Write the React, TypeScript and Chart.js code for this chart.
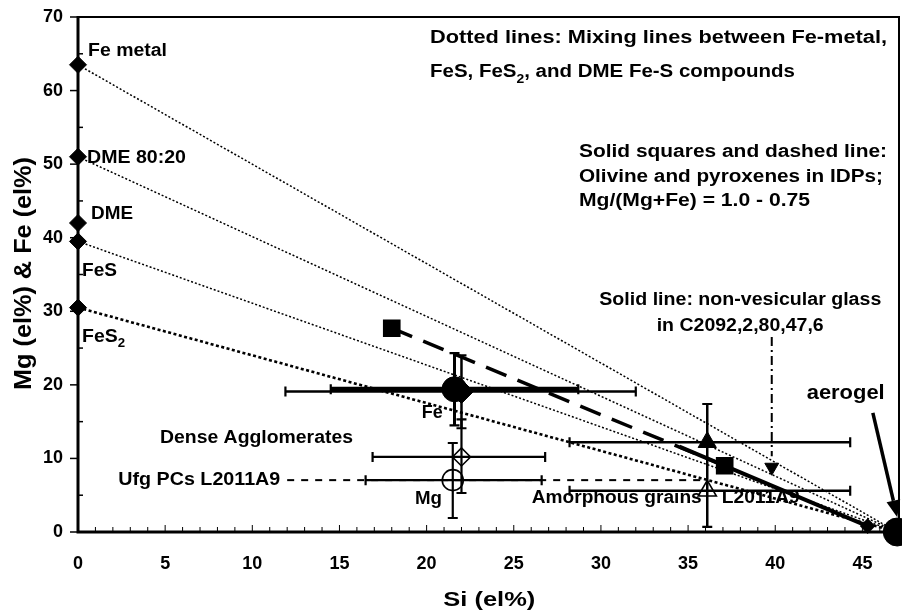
import React, { useEffect, useRef } from "react";
import { Chart, registerables } from "chart.js";
Chart.register(...registerables);

// ---------- data ----------
const xTickValues = [0, 5, 10, 15, 20, 25, 30, 35, 40, 45];
const yTickValues = [0, 10, 20, 30, 40, 50, 60, 70];

const endmemberNames = ["Fe metal", "DME 80:20", "DME", "FeS", "FeS2"];
const endmemberSi = [0, 0, 0, 0, 0];
const endmemberFe = [63.5, 51, 42, 39.5, 30.5];

const mixingStartFe = [63.5, 51, 39.5, 30.5];
const aerogelSi = [47];
const aerogelMgFe = [0];

const idpSi = [18, 37.1];
const idpMgFe = [27.7, 9.0];

const glassLineSi = [34.5, 45.3];
const glassLineMgFe = [11.6, 0.8];
const glassPointSi = [39.8];
const glassPointMgFe = [8.8];
const glassLeaderMgFe = [26.5, 10.3];

const sampleNames = [
  "Dense Agglomerates Fe",
  "Ufg PCs Fe",
  "Dense Agglomerates Mg",
  "Ufg PCs Mg",
  "Amorphous grains Fe",
  "Amorphous grains Mg",
];
const sampleSi = [22.0, 21.6, 22.0, 21.5, 36.1, 36.1];
const sampleMgFe = [19.1, 19.4, 10.2, 7.05, 12.2, 5.6];
const siErrLow = [11.9, 14.5, 16.9, 16.5, 28.2, 28.2];
const siErrHigh = [32.0, 28.7, 26.8, 26.6, 44.3, 44.3];
const mgFeErrLow = [14.1, 14.5, 5.3, 1.9, 0.7, null];
const mgFeErrHigh = [24.0, 24.3, 15.3, 12.1, 17.4, null];

const ufgLinkSi = [12.0, 36.1];
const ufgLinkMgFe = [7.05, 7.05];

const arrowSi = [45.6, 47.0];
const arrowMgFe = [16.2, 2.0];

// ---------- styles ----------
const FONT = '"Liberation Sans", Arial, Helvetica, sans-serif';
const sampleStyles = ["rectRot", "circle", "rectRot", "circle", "triangle", "triangle"];
const sampleRadii = [12, 12.5, 9, 10.5, 10.5, 10.5];
const sampleFill = ["#000", "#000", "rgba(0,0,0,0)", "rgba(0,0,0,0)", "#000", "rgba(0,0,0,0)"];
const sampleBorder = [1, 1, 1.6, 1.6, 1, 1.6];
const siBarWidth = [2.5, 5, 2.2, 2.2, 2.5, 2.5];
const mgFeBarWidth = [2.5, 3, 2.2, 2.2, 2.5, 2.5];

const AREA = { left: 78, top: 17, right: 899, bottom: 532 };

type Seg = { t: string; sub?: boolean };

// draws text whose total width is fitted to `width` (horizontal scaling only)
function drawText(
  ctx: CanvasRenderingContext2D,
  segs: string | Seg[],
  x: number,
  y: number,
  size: number,
  width: number,
  align: "left" | "center" | "right" = "left"
) {
  const parts: Seg[] = typeof segs === "string" ? [{ t: segs }] : segs;
  ctx.save();
  ctx.fillStyle = "#000";
  ctx.textBaseline = "alphabetic";
  ctx.textAlign = "left";
  let total = 0;
  const widths: number[] = [];
  for (const p of parts) {
    const s = p.sub ? size * 0.68 : size;
    ctx.font = `bold ${s}px ${FONT}`;
    const w = ctx.measureText(p.t).width;
    widths.push(w);
    total += w;
  }
  const sx = width / total;
  const start = align === "center" ? x - width / 2 : align === "right" ? x - width : x;
  ctx.translate(start, y);
  ctx.scale(sx, 1);
  let cx = 0;
  parts.forEach((p, i) => {
    const s = p.sub ? size * 0.68 : size;
    ctx.font = `bold ${s}px ${FONT}`;
    ctx.fillText(p.t, cx, p.sub ? size * 0.3 : 0);
    cx += widths[i];
  });
  ctx.restore();
}

const framePlugin = {
  id: "frameAndBars",
  beforeDatasetsDraw(chart: any) {
    const { ctx, chartArea: a, scales } = chart;
    const xs = scales.x;
    const ys = scales.y;
    ctx.save();
    ctx.strokeStyle = "#000";
    ctx.lineCap = "butt";
    ctx.lineWidth = 2;
    ctx.beginPath();
    ctx.moveTo(a.left, a.top);
    ctx.lineTo(a.right, a.top);
    ctx.lineTo(a.right, a.bottom);
    ctx.stroke();
    ctx.lineWidth = 3;
    ctx.beginPath();
    ctx.moveTo(a.left, a.top - 1);
    ctx.lineTo(a.left, a.bottom);
    ctx.lineTo(a.right + 1, a.bottom);
    ctx.stroke();
    ctx.lineWidth = 1.5;
    for (let v = 0; v <= 70; v += 5) {
      const py = ys.getPixelForValue(v);
      ctx.beginPath();
      if (v % 10 === 0) {
        ctx.moveTo(a.left - 8, py);
        ctx.lineTo(a.left, py);
      } else {
        ctx.moveTo(a.left, py);
        ctx.lineTo(a.left + 5, py);
      }
      ctx.stroke();
    }
    ctx.lineWidth = 1;
    for (let v = 1; v <= 47; v++) {
      const px = xs.getPixelForValue(v);
      const len = v % 5 === 0 ? 7 : 5;
      ctx.beginPath();
      ctx.moveTo(px, a.bottom);
      ctx.lineTo(px, a.bottom - len);
      ctx.stroke();
    }
    const cap = 5;
    sampleSi.forEach((_, i) => {
      const py = ys.getPixelForValue(sampleMgFe[i]);
      const px = xs.getPixelForValue(sampleSi[i]);
      const x1 = xs.getPixelForValue(siErrLow[i]);
      const x2 = xs.getPixelForValue(siErrHigh[i]);
      ctx.lineWidth = siBarWidth[i];
      ctx.beginPath();
      ctx.moveTo(x1, py);
      ctx.lineTo(x2, py);
      ctx.stroke();
      ctx.lineWidth = 2.2;
      ctx.beginPath();
      ctx.moveTo(x1, py - cap);
      ctx.lineTo(x1, py + cap);
      ctx.moveTo(x2, py - cap);
      ctx.lineTo(x2, py + cap);
      ctx.stroke();
      const lo = mgFeErrLow[i];
      const hi = mgFeErrHigh[i];
      if (lo !== null && hi !== null) {
        const y1 = ys.getPixelForValue(lo);
        const y2 = ys.getPixelForValue(hi);
        ctx.lineWidth = mgFeBarWidth[i];
        ctx.beginPath();
        ctx.moveTo(px, y1);
        ctx.lineTo(px, y2);
        ctx.stroke();
        ctx.lineWidth = 2.2;
        ctx.beginPath();
        ctx.moveTo(px - cap, y1);
        ctx.lineTo(px + cap, y1);
        ctx.moveTo(px - cap, y2);
        ctx.lineTo(px + cap, y2);
        ctx.stroke();
      }
    });
    ctx.restore();
  },
  afterDatasetsDraw(chart: any) {
    const { ctx, scales } = chart;
    const xs = scales.x;
    const ys = scales.y;
    const x1 = xs.getPixelForValue(arrowSi[0]);
    const y1 = ys.getPixelForValue(arrowMgFe[0]);
    const x2 = xs.getPixelForValue(arrowSi[1]);
    const y2 = ys.getPixelForValue(arrowMgFe[1]);
    const ang = Math.atan2(y2 - y1, x2 - x1);
    const hl = 17;
    const hw = 7;
    ctx.save();
    ctx.strokeStyle = "#000";
    ctx.fillStyle = "#000";
    ctx.lineWidth = 3.5;
    ctx.beginPath();
    ctx.moveTo(x1, y1);
    ctx.lineTo(x2 - Math.cos(ang) * hl, y2 - Math.sin(ang) * hl);
    ctx.stroke();
    ctx.beginPath();
    ctx.moveTo(x2, y2);
    const bx = x2 - Math.cos(ang) * hl;
    const by = y2 - Math.sin(ang) * hl;
    ctx.lineTo(bx + Math.sin(ang) * hw, by - Math.cos(ang) * hw);
    ctx.lineTo(bx - Math.sin(ang) * hw, by + Math.cos(ang) * hw);
    ctx.closePath();
    ctx.fill();
    ctx.restore();

    const s = 17.5;
    drawText(ctx, endmemberNames[0], 88, 56, s, 79);
    drawText(ctx, endmemberNames[1], 87, 162.5, s, 99);
    drawText(ctx, endmemberNames[2], 91, 219, s, 42);
    drawText(ctx, endmemberNames[3], 82, 276, s, 35);
    drawText(ctx, [{ t: "FeS" }, { t: "2", sub: true }], 82, 341.5, s, 43);

    drawText(ctx, "Dotted lines: Mixing lines between Fe-metal,", 430, 42.7, s, 457);
    drawText(
      ctx,
      [{ t: "FeS, FeS" }, { t: "2", sub: true }, { t: ", and DME Fe-S compounds" }],
      430,
      77.3,
      s,
      365
    );
    drawText(ctx, "Solid squares and dashed line:", 579, 156.7, s, 308);
    drawText(ctx, "Olivine and pyroxenes in IDPs;", 579, 181.7, s, 304);
    drawText(ctx, "Mg/(Mg+Fe) = 1.0 - 0.75", 579, 206, s, 231);
    drawText(ctx, "Solid line: non-vesicular glass", 599.3, 305, s, 282);
    drawText(ctx, "in C2092,2,80,47,6", 656.7, 330.7, s, 167);
    drawText(ctx, "aerogel", 806.7, 398.5, 20, 78);
    drawText(ctx, "Dense Agglomerates", 160, 443.3, s, 193);
    drawText(ctx, "Ufg PCs L2011A9", 118.3, 485, s, 162);
    drawText(ctx, "Fe", 421.7, 418, s, 21);
    drawText(ctx, "Mg", 415, 504, s, 27);
    drawText(ctx, "Amorphous grains", 531.7, 503.3, s, 170);
    drawText(ctx, "L2011A9", 721.7, 503.3, s, 78);
  },
  afterDraw(chart: any) {
    const { ctx } = chart;
    drawText(ctx, "Si (el%)", 443.3, 605.5, 21, 92);
    ctx.save();
    ctx.translate(30.7, 273.5);
    ctx.rotate(-Math.PI / 2);
    drawText(ctx, "Mg (el%) & Fe (el%)", 0, 0, 23, 233, "center");
    ctx.restore();
  },
};

const noPadding = () => ({ left: 0, top: 0, right: 0, bottom: 0 });
const zeroPadding = (scale: any) => {
  scale.paddingTop = 0;
  scale.paddingBottom = 0;
  scale.paddingLeft = 0;
  scale.paddingRight = 0;
  scale.getPadding = noPadding;
};

export default function App() {
  const ref = useRef<HTMLCanvasElement | null>(null);
  useEffect(() => {
    document.body.style.margin = "0";
    if (!ref.current) return;

    const pts = (xs: number[], ys: number[]) => xs.map((x, i) => ({ x, y: ys[i] }));

    const mixingDatasets = mixingStartFe.map((y0, i) => ({
      label: "mixing " + i,
      data: [
        { x: 0, y: y0 },
        { x: aerogelSi[0], y: aerogelMgFe[0] },
      ],
      showLine: true,
      borderColor: "#000",
      borderWidth: i === mixingStartFe.length - 1 ? 2.6 : 1.5,
      borderDash: i === mixingStartFe.length - 1 ? [3, 2.5] : [2, 2],
      pointRadius: 0,
      clip: false as any,
    }));

    const chart = new Chart(ref.current, {
      type: "scatter",
      data: {
        datasets: [
          {
            label: "aerogel",
            data: pts(aerogelSi, aerogelMgFe),
            pointStyle: "circle",
            pointRadius: 14,
            pointBackgroundColor: "#000",
            pointBorderColor: "#000",
            clip: false as any,
          },
          {
            label: "samples",
            data: pts(sampleSi, sampleMgFe),
            pointStyle: sampleStyles as any,
            pointRadius: sampleRadii,
            pointBackgroundColor: sampleFill,
            pointBorderColor: "#000",
            pointBorderWidth: sampleBorder,
            clip: false as any,
          },
          {
            label: "endmembers",
            data: pts(endmemberSi, endmemberFe),
            pointStyle: "rectRot",
            pointRadius: 8.5,
            pointBackgroundColor: "#000",
            pointBorderColor: "#000",
            clip: false as any,
          },
          {
            label: "glass point",
            data: pts(glassPointSi, glassPointMgFe),
            pointStyle: "triangle",
            rotation: 180,
            pointRadius: 8,
            pointBackgroundColor: "#000",
            pointBorderColor: "#000",
            clip: false as any,
          },
          {
            label: "IDPs",
            data: pts(idpSi, idpMgFe),
            showLine: true,
            borderColor: "#000",
            borderWidth: 3.5,
            borderDash: [22, 12],
            pointStyle: "rect",
            pointRadius: 10,
            pointBackgroundColor: "#000",
            pointBorderColor: "#000",
            clip: false as any,
          },
          {
            label: "glass",
            data: pts(glassLineSi, glassLineMgFe),
            showLine: true,
            borderColor: "#000",
            borderWidth: 4,
            pointStyle: "rectRot",
            pointRadius: [0, 5],
            pointBackgroundColor: "#000",
            pointBorderColor: "#000",
            clip: false as any,
          },
          {
            label: "glass leader",
            data: [
              { x: glassPointSi[0], y: glassLeaderMgFe[0] },
              { x: glassPointSi[0], y: glassLeaderMgFe[1] },
            ],
            showLine: true,
            borderColor: "#000",
            borderWidth: 2,
            borderDash: [9, 4, 2, 4],
            pointRadius: 0,
            clip: false as any,
          },
          {
            label: "ufg link",
            data: pts(ufgLinkSi, ufgLinkMgFe),
            showLine: true,
            borderColor: "#000",
            borderWidth: 2,
            borderDash: [7, 7],
            pointRadius: 0,
            clip: false as any,
          },
          ...mixingDatasets,
        ],
      },
      options: {
        animation: false,
        responsive: false,
        events: [],
        layout: {
          autoPadding: false,
          padding: { top: AREA.top, right: 902 - AREA.right, left: 0, bottom: 0 },
        },
        plugins: {
          legend: { display: false },
          tooltip: { enabled: false },
        },
        scales: {
          x: {
            type: "linear",
            min: 0,
            max: 47.1,
            afterBuildTicks: (scale: any) => {
              scale.ticks = xTickValues.map((v) => ({ value: v }));
            },
            afterFit: (scale: any) => {
              scale.height = 612 - AREA.bottom;
              zeroPadding(scale);
            },
            grid: { display: false, drawTicks: false },
            border: { display: false },
            ticks: {
              color: "#000",
              padding: 21,
              maxRotation: 0,
              autoSkip: false,
              font: { family: FONT, size: 18, weight: "bold" },
            },
          },
          y: {
            type: "linear",
            min: 0,
            max: 70,
            afterBuildTicks: (scale: any) => {
              scale.ticks = yTickValues.map((v) => ({ value: v }));
            },
            afterFit: (scale: any) => {
              scale.width = AREA.left;
              zeroPadding(scale);
            },
            grid: { display: false, drawTicks: false },
            border: { display: false },
            ticks: {
              color: "#000",
              padding: 15,
              autoSkip: false,
              font: { family: FONT, size: 18, weight: "bold" },
            },
          },
        },
      } as any,
      plugins: [framePlugin],
    });

    return () => chart.destroy();
  }, []);

  return (
    <div style={{ width: 902, height: 612 }}>
      <canvas ref={ref} width={902} height={612} style={{ display: "block" }} />
    </div>
  );
}
